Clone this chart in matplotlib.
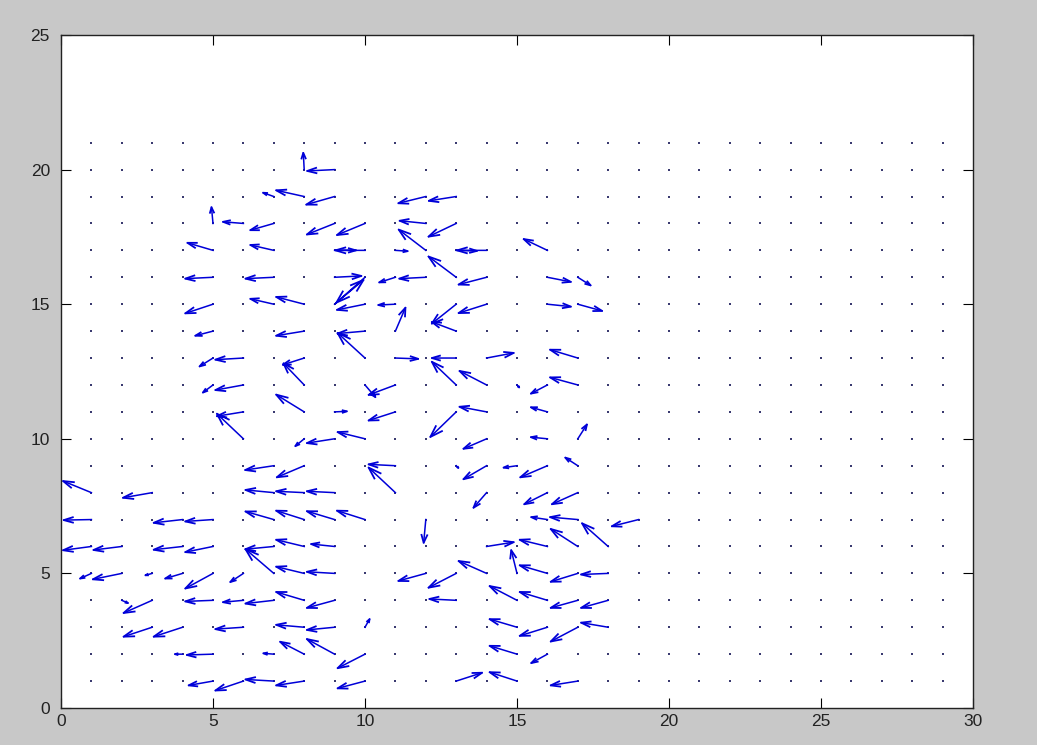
import numpy as np
import matplotlib
matplotlib.use('Agg')
import matplotlib.pyplot as plt

# grid of the vector field
grid_x = np.arange(0, 30)
grid_y = np.arange(1, 22)

# non-zero vectors, one line per grid row (x, y, u, v)
qx = [8, 9,
      7, 8, 9, 12, 13,
      5, 6, 7, 9, 10, 12, 13,
      5, 7, 9, 10, 11, 12, 13, 14, 16,
      5, 7, 9, 10, 11, 12, 13, 14, 16, 17,
      5, 7, 8, 9, 10, 11, 13, 14, 16, 17,
      5, 8, 10, 11, 13,
      5, 6, 8, 10, 11, 13, 14, 17,
      5, 6, 8, 10, 11, 13, 14, 15, 16, 17,
      6, 8, 9, 11, 13, 14, 16,
      6, 8, 9, 10, 14, 16, 17,
      7, 8, 11, 13, 14, 15, 16, 17,
      1, 3, 7, 8, 9, 11, 14, 16, 17,
      1, 4, 5, 7, 8, 9, 10, 12, 16, 17, 19,
      1, 2, 4, 5, 7, 8, 9, 14, 16, 17, 18,
      1, 2, 3, 4, 5, 6, 7, 8, 9, 12, 13, 14, 15, 16, 17, 18,
      2, 3, 5, 6, 7, 8, 9, 13, 15, 16, 17, 18,
      3, 4, 6, 8, 9, 10, 15, 16, 17, 18,
      4, 5, 7, 8, 9, 10, 15, 16,
      5, 6, 7, 8, 10, 13, 15, 17]
qy = [20] * 2 + [19] * 5 + [18] * 7 + [17] * 9 + [16] * 10 + [15] * 10 + \
     [14] * 5 + [13] * 8 + [12] * 10 + [11] * 7 + [10] * 7 + [9] * 8 + \
     [8] * 9 + [7] * 11 + [6] * 11 + [5] * 16 + [4] * 12 + [3] * 10 + \
     [2] * 8 + [1] * 8
qu = [-0.03, -0.9,
      -0.35, -0.92, -0.93, -0.9, -0.9,
      -0.05, -0.67, -0.77, -0.91, -0.92, -0.86, -0.91,
      -0.84, -0.77, 0.7, -0.97, 0.4, -0.89, 0.68, -0.97, -0.78,
      -0.91, -0.93, 0.88, -0.94, -0.53, -0.87, -0.91, -0.92, 0.77, 0.42,
      -0.91, -0.77, -0.92, 0.95, -0.92, -0.56, -0.8, -0.92, 0.77, 0.8,
      -0.58, -0.92, -0.9, 0.33, -0.8,
      -0.44, -0.92, -0.7, -0.9, 0.75, -0.8, 0.89, -0.91,
      -0.33, -0.92, -0.68, 0.34, -0.88, -0.8, -0.89, 0.07, -0.54, -0.91,
      -0.87, -0.92, 0.4, -0.88, -0.85, -0.89, -0.54,
      -0.87, -0.29, -0.91, -0.9, -0.76, -0.54, 0.3,
      -0.94, -0.9, -0.88, 0.07, -0.76, -0.44, -0.89, -0.41,
      -0.93, -0.96, -0.93, -0.92, -0.91, -0.88, -0.43, -0.76, -0.85,
      -0.91, -0.95, -0.91, -0.93, -0.92, -0.91, -0.92, -0.07, -0.53, -0.91, -0.88,
      -0.93, -0.93, -0.95, -0.91, -0.93, -0.92, -0.77, 0.89, -0.91, -0.89, -0.86,
      -0.37, -0.95, -0.22, -0.57, -0.91, -0.43, -0.93, -0.92, -0.91, -0.9, -0.91, -0.92, -0.19, -0.91, -0.89, -0.89,
      0.2, -0.94, -0.91, -0.67, -0.93, -0.92, -0.91, -0.88, -0.9, -0.91, -0.89, -0.89,
      -0.94, -0.95, -0.92, -0.92, -0.91, 0.15, -0.9, -0.91, -0.89, -0.89,
      -0.25, -0.86, -0.34, -0.79, -0.91, -0.9, -0.9, -0.53,
      -0.8, -0.92, -0.93, -0.92, -0.9, 0.85, -0.9, -0.89]
qv = [0.62, -0.05,
      0.14, 0.23, -0.3, -0.25, -0.16,
      0.6, 0.06, -0.25, -0.41, -0.43, 0.1, -0.49,
      0.28, 0.2, 0.0, 0.0, -0.03, 0.77, -0.02, 0.0, 0.42,
      -0.05, -0.05, 0.05, -0.94, -0.19, -0.05, 0.77, -0.27, -0.17, -0.3,
      -0.34, 0.2, 0.27, 0.9, -0.21, -0.03, -0.72, -0.33, -0.09, -0.25,
      -0.17, -0.17, -0.09, 0.87, 0.34,
      -0.31, -0.06, -0.25, 0.93, -0.03, 0.0, 0.19, 0.31,
      -0.28, -0.19, 0.8, -0.45, -0.37, 0.86, 0.52, -0.09, -0.32, 0.28,
      -0.16, 0.64, 0.02, -0.32, -0.93, 0.19, 0.17,
      0.93, -0.27, -0.16, 0.25, -0.37, 0.06, 0.53,
      -0.16, -0.43, 0.05, -0.08, -0.5, -0.07, -0.43, 0.3,
      0.43, -0.19, 0.1, 0.05, 0.05, 0.93, -0.56, -0.43, -0.43,
      -0.02, -0.12, -0.07, 0.3, 0.33, 0.31, 0.33, -0.86, 0.09, 0.09, -0.25,
      -0.14, -0.13, -0.12, -0.21, -0.1, 0.25, 0.09, 0.16, 0.25, 0.65, 0.86,
      -0.19, -0.22, -0.07, -0.19, -0.56, -0.32, 0.9, 0.25, 0.06, -0.28, -0.53, 0.46, 0.86, 0.3, -0.31, -0.04,
      -0.1, -0.47, -0.04, -0.07, -0.12, 0.31, -0.28, 0.05, 0.53, 0.31, -0.28, -0.28,
      -0.35, -0.35, -0.07, 0.09, -0.1, 0.3, 0.3, -0.32, -0.53, 0.17,
      0.0, -0.03, 0.03, 0.46, 0.56, -0.52, 0.31, -0.33,
      -0.16, -0.35, 0.06, -0.16, -0.27, 0.31, 0.33, -0.16]

x_ticks = [0, 5, 10, 15, 20, 25, 30]
y_ticks = [0, 5, 10, 15, 20, 25]

# arrow head shape, as in the classic quiver
alpha = 0.33
beta = 0.33

x = np.array(qx, dtype=float)
y = np.array(qy, dtype=float)
u = np.array(qu)
v = np.array(qv)
nans = np.full(len(x), np.nan)

shaft_x = np.column_stack([x, x + u, nans]).ravel()
shaft_y = np.column_stack([y, y + v, nans]).ravel()
head_x = np.column_stack([x + u - alpha * (u + beta * v), x + u,
                          x + u - alpha * (u - beta * v), nans]).ravel()
head_y = np.column_stack([y + v - alpha * (v - beta * u), y + v,
                          y + v - alpha * (v + beta * u), nans]).ravel()

fig = plt.figure(figsize=(10.37, 7.45), dpi=100, facecolor='#c8c8c8')
ax = fig.add_axes([61 / 1037, 37 / 745, 912 / 1037, 673 / 745])
ax.set_facecolor('white')

gx, gy = np.meshgrid(grid_x, grid_y)
ax.plot(gx.ravel(), gy.ravel(), linestyle='none', marker='s', markersize=1.5,
        markeredgewidth=0, color='#3a3a70')
ax.plot(shaft_x, shaft_y, color='#0000d8', linewidth=1.1)
ax.plot(head_x, head_y, color='#0000d8', linewidth=1.3)

ax.set_xlim(0, 30)
ax.set_ylim(0, 25)
ax.set_xticks(x_ticks)
ax.set_yticks(y_ticks)
ax.tick_params(direction='in', top=True, right=True, length=7, width=0.8,
               labelsize=12.5, colors='black')
ax.tick_params(axis='y', pad=8)
ax.tick_params(axis='x', pad=4)
for lab in ax.get_xticklabels() + ax.get_yticklabels():
    lab.set_fontfamily('Liberation Sans')
    lab.set_color('#222222')
for side in ax.spines.values():
    side.set_linewidth(1.0)
    side.set_color('#222222')

fig.savefig('out.png', dpi=100, facecolor=fig.get_facecolor())
